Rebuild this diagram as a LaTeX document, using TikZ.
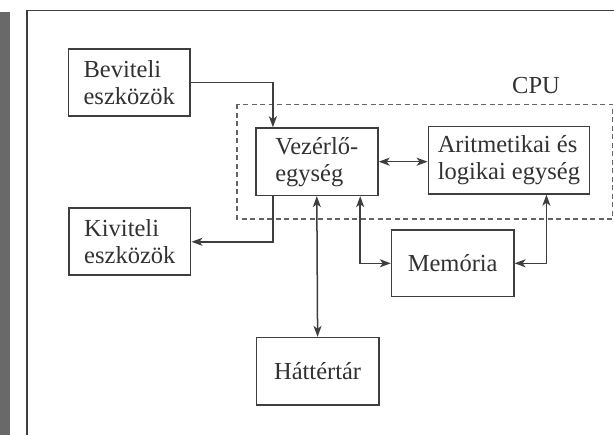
\documentclass[tikz,border=0pt]{standalone}
\usepackage{fontspec}
\setmainfont{Liberation Serif}
\usetikzlibrary{arrows.meta}
\definecolor{ink}{RGB}{62,62,62}
\definecolor{txt}{RGB}{50,50,50}
\definecolor{dashc}{RGB}{100,100,100}
\definecolor{strip}{RGB}{105,105,105}
\tikzset{
  tip/.tip={Stealth[length=11pt,width=8pt,inset=3pt]},
  box/.style={draw=ink, line width=1.6pt, rectangle, inner sep=0pt, align=left,
    text=txt, font=\fontsize{24.5}{27}\selectfont},
  conn/.style={draw=ink, line width=1.5pt, arrows={-tip}},
  biconn/.style={draw=ink, line width=1.5pt, arrows={tip-tip}},
  cpubox/.style={draw=dashc, line width=1.2pt, dash pattern=on 5pt off 3.5pt},
}
\begin{document}
\begin{tikzpicture}[x=1pt,y=-1pt]
\useasboundingbox (0,0) rectangle (614,435);
\fill[white] (0,0) rectangle (614,435);
% photo edge on the left
\fill[strip] (0,12) rectangle (10,435);
% page frame
\draw[ink, line width=1.5pt] (27,435) -- (27,10.5) -- (614,10.5);

% CPU region
\draw[cpubox] (237,104.5) rectangle (612.5,219);
\node[text=txt, font=\fontsize{24.5}{27}\selectfont] (cpu) at (536,86) {CPU};

\node[box, minimum width=121.5pt, minimum height=67pt] (bev) at (129.2,82.5) {Beviteli\\eszközök};
\node[box, minimum width=121.7pt, minimum height=67pt] (kiv) at (129.8,241.8) {Kiviteli\\eszközök};
\node[box, minimum width=122.2pt, minimum height=67.3pt] (vez) at (316.8,161.7) {Vezérlő-\\egység};
\node[box, minimum width=161pt, minimum height=67.3pt] (ari) at (508.9,160.3) {Aritmetikai és\\logikai egység};
\node[box, minimum width=122.2pt, minimum height=66.7pt] (mem) at (452.7,263.3) {Memória};
\node[box, minimum width=122.2pt, minimum height=67.3pt] (hat) at (317.6,371.3) {Háttértár};

\draw[conn] (bev.east) -| ([xshift=18pt]vez.north west);
\draw[biconn] (vez.east) -- (vez.east -| ari.west);
\draw[conn] ([xshift=18pt]vez.south west) |- (kiv.east);
\draw[biconn] (vez.south) -- (hat.north);
\draw[biconn] ([xshift=-18.5pt]vez.south east) |- (mem.west);
\draw[biconn] ([xshift=37.5pt]ari.south) |- (mem.east);
\end{tikzpicture}
\end{document}
